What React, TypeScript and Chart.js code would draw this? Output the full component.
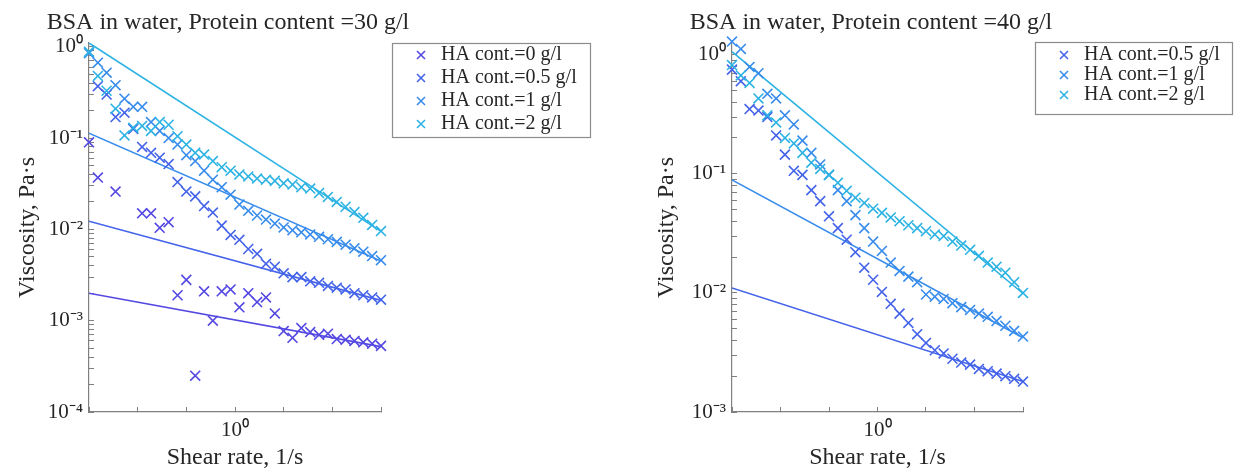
import React, { useEffect, useRef } from 'react';
import { Chart, registerables } from 'chart.js';

Chart.register(...registerables);

// ---------- data ----------
const shearRate = [0.1, 0.115, 0.132, 0.152, 0.175, 0.201, 0.231, 0.266, 0.305, 0.351, 0.404, 0.464, 0.534, 0.614, 0.705, 0.811, 0.933, 1.072, 1.233, 1.417, 1.63, 1.874, 2.154, 2.477, 2.848, 3.275, 3.765, 4.329, 4.977, 5.722, 6.579, 7.565, 8.697, 10.0];

// Protein content 30 g/l
const ha0_30 = [0.09, 0.037, null, 0.026, null, null, 0.015, 0.015, 0.0104, 0.012, 0.0019, 0.0028, 0.00025, 0.0021, 0.001, 0.0021, 0.0022, 0.0014, 0.002, 0.0016, 0.0018, 0.0012, 0.00077, 0.00065, 0.00083, 0.00075, 0.0007, 0.00072, 0.00063, 0.00062, 0.0006, 0.00058, 0.00056, 0.00053];
const ha05_30 = [null, 0.37, 0.3, 0.17, 0.19, 0.126, 0.08, 0.069, 0.061, 0.052, 0.033, 0.026, 0.023, 0.018, 0.0153, 0.011, 0.0087, 0.0077, 0.0061, 0.0054, 0.0042, 0.0039, 0.0033, 0.003, 0.003, 0.0027, 0.0026, 0.0024, 0.0023, 0.0022, 0.002, 0.0019, 0.0018, 0.0017];
const ha1_30 = [0.85, 0.67, 0.52, 0.38, 0.27, 0.22, 0.22, 0.15, 0.12, 0.1, 0.085, 0.065, 0.056, 0.044, 0.035, 0.029, 0.024, 0.0187, 0.016, 0.0142, 0.0128, 0.0116, 0.0105, 0.0098, 0.0093, 0.0088, 0.0083, 0.0078, 0.0073, 0.0068, 0.0062, 0.0057, 0.0051, 0.0046];
const ha2_30 = [0.88, 0.48, 0.33, 0.21, 0.107, 0.13, 0.136, 0.12, 0.15, 0.14, 0.105, 0.085, 0.069, 0.066, 0.056, 0.048, 0.044, 0.04, 0.038, 0.036, 0.035, 0.034, 0.032, 0.031, 0.029, 0.028, 0.025, 0.0227, 0.02, 0.0177, 0.0155, 0.0134, 0.0112, 0.0096];

// Protein content 40 g/l
const ha05_40 = [0.75, 0.6, 0.35, 0.34, 0.3, 0.21, 0.145, 0.106, 0.098, 0.073, 0.059, 0.044, 0.035, 0.028, 0.022, 0.0163, 0.0129, 0.0102, 0.0081, 0.0067, 0.0056, 0.0045, 0.0038, 0.0033, 0.0031, 0.0028, 0.0026, 0.0025, 0.0023, 0.0022, 0.0021, 0.002, 0.0019, 0.0018];
const ha1_40 = [1.29, 1.12, 0.79, 0.7, 0.47, 0.43, 0.31, 0.26, 0.19, 0.15, 0.12, 0.098, 0.073, 0.059, 0.045, 0.035, 0.027, 0.0225, 0.018, 0.0153, 0.0137, 0.0123, 0.0097, 0.0093, 0.0089, 0.0082, 0.0076, 0.0072, 0.0067, 0.0063, 0.0058, 0.0053, 0.0048, 0.0043];
const ha2_40 = [0.82, 0.67, 0.58, 0.43, 0.31, 0.27, 0.2, 0.18, 0.15, 0.124, 0.11, 0.098, 0.084, 0.072, 0.063, 0.057, 0.051, 0.047, 0.043, 0.04, 0.037, 0.035, 0.033, 0.031, 0.03, 0.027, 0.025, 0.023, 0.0205, 0.018, 0.0166, 0.0148, 0.0123, 0.01];

// power-law fit lines (end points at the x limits)
const fitX = [0.1, 10];
const fit0_30 = [0.002, 0.00052];
const fit05_30 = [0.0123, 0.00167];
const fit1_30 = [0.113, 0.0045];
const fit2_30 = [1.1, 0.0095];
const fit05_40 = [0.011, 0.0018];
const fit1_40 = [0.089, 0.0042];
const fit2_40 = [1.06, 0.0099];

const labels30 = ['HA cont.=0 g/l', 'HA cont.=0.5 g/l', 'HA cont.=1 g/l', 'HA cont.=2 g/l'];
const labels40 = ['HA cont.=0.5 g/l', 'HA cont.=1 g/l', 'HA cont.=2 g/l'];

// ticks
const xTicks = [0.1, 0.2154, 0.4642, 1, 2.154, 4.642, 10];
const xMajor = [1];
const xMajorLabels = ['10⁰'];
const minorMult = [1, 2, 3, 4, 5, 6, 7, 8, 9];
const yDecades30 = [1e-4, 1e-3, 1e-2, 1e-1];
const yDecades40 = [1e-3, 1e-2, 1e-1];
const yMajor30 = [1e-4, 1e-3, 1e-2, 1e-1, 1];
const yMajorLabels30 = ['10⁻⁴', '10⁻³', '10⁻²', '10⁻¹', '10⁰'];
const yMajor40 = [1e-3, 1e-2, 1e-1, 1];
const yMajorLabels40 = ['10⁻³', '10⁻²', '10⁻¹', '10⁰'];

// colours
const cHA0 = '#5448e2';
const cHA05 = '#4463ea';
const cHA1 = '#388cec';
const cHA2 = '#2db3e3';

const FONT = "'Liberation Serif', 'Times New Roman', serif";
const TEXT = '#262626';
const AXIS = '#808080';

// ---------- helpers ----------
const labelFor = (majors: number[], names: string[]) => (v: number) => {
  for (let i = 0; i < majors.length; i++) {
    if (Math.abs(Math.log10(v) - Math.log10(majors[i])) < 1e-6) return names[i];
  }
  return '';
};

const frameAndPlace = {
  id: 'frameAndPlace',
  beforeDraw(chart: any, _a: any, opts: any) {
    const lg = chart.legend;
    if (lg) {
      lg.left = opts.lx;
      lg.top = opts.ly;
      lg.width = 260;
      lg.height = 200;
      lg.right = opts.lx + 260;
      lg.bottom = opts.ly + 200;
    }
    const t = chart.titleBlock;
    if (t) {
      t.left = opts.tc - 300;
      t.right = opts.tc + 300;
      t.width = 600;
    }
  },
  afterDraw(chart: any, _a: any, opts: any) {
    const ctx = chart.ctx;
    const [l, t, r, b] = opts.frame;
    ctx.save();
    ctx.strokeStyle = '#8c8c8c';
    ctx.lineWidth = 1.2;
    ctx.strokeRect(l + 0.5, t + 0.5, r - l, b - t);
    ctx.restore();
  },
};

type Series = { label: string; values: (number | null)[]; fit: number[]; color: string };

type PanelSpec = {
  title: string;
  series: Series[];
  yMin: number;
  yMax: number;
  yTicks: number[];
  yMajor: number[];
  yMajorLabels: string[];
  yAxisWidth: number;
  yTitlePad: number;
  padRight: number;
  legendPad: number;
  lx: number;
  ly: number;
  tc: number;
  frame: number[];
};

function buildConfig(p: PanelSpec): any {
  const n = p.series.length;
  const datasets: any[] = [];
  p.series.forEach((s, k) => {
    datasets.push({
      label: s.label,
      data: shearRate.map((x, i) => ({ x, y: s.values[i] })),
      pointStyle: 'crossRot',
      pointRadius: 7,
      pointHoverRadius: 7,
      borderWidth: 1.6,
      borderColor: s.color,
      backgroundColor: s.color,
      showLine: false,
      clip: false,
      order: n - k,
    });
  });
  p.series.forEach((s) => {
    datasets.push({
      label: '',
      data: fitX.map((x, i) => ({ x, y: s.fit[i] })),
      showLine: true,
      pointRadius: 0,
      borderWidth: 1.6,
      borderColor: s.color,
      backgroundColor: s.color,
      fill: false,
      order: 10,
    });
  });

  const tickFont = { family: FONT, size: 21 };
  const titleFont = { family: FONT, size: 24, weight: 'normal' as const };

  return {
    type: 'scatter',
    data: { datasets },
    plugins: [frameAndPlace],
    options: {
      responsive: false,
      animation: false,
      events: [],
      layout: { padding: { left: 0, top: 0, right: p.padRight, bottom: 0 } },
      scales: {
        x: {
          type: 'logarithmic',
          position: 'bottom',
          min: 0.1,
          max: 10,
          afterBuildTicks: (s: any) => {
            s.ticks = xTicks.map((v) => ({ value: v }));
          },
          afterFit: (s: any) => {
            s.height = 60;
          },
          ticks: {
            autoSkip: false,
            maxRotation: 0,
            padding: 11,
            font: tickFont,
            color: TEXT,
            callback: (v: number) => labelFor(xMajor, xMajorLabels)(v),
          },
          grid: { drawOnChartArea: false, tickLength: -5, tickColor: AXIS, tickWidth: 1 },
          border: { display: true, color: AXIS, width: 1.2 },
          title: { display: true, text: 'Shear rate, 1/s', font: titleFont, color: TEXT, padding: { top: 0, bottom: 0 } },
        },
        y: {
          type: 'logarithmic',
          position: 'left',
          min: p.yMin,
          max: p.yMax,
          afterBuildTicks: (s: any) => {
            s.ticks = p.yTicks.map((v) => ({ value: v }));
          },
          afterFit: (s: any) => {
            s.width = p.yAxisWidth;
          },
          ticks: {
            autoSkip: false,
            padding: 11,
            font: tickFont,
            color: TEXT,
            callback: (v: number) => labelFor(p.yMajor, p.yMajorLabels)(v),
          },
          grid: { drawOnChartArea: false, tickLength: -5, tickColor: AXIS, tickWidth: 1 },
          border: { display: true, color: AXIS, width: 1.2 },
          title: { display: true, text: 'Viscosity, Pa·s', font: titleFont, color: TEXT, padding: { top: p.yTitlePad, bottom: 0 } },
        },
      },
      plugins: {
        title: {
          display: true,
          text: p.title,
          font: titleFont,
          color: TEXT,
          padding: { top: 8, bottom: 6 },
        },
        legend: {
          display: true,
          position: 'chartArea',
          align: 'start',
          labels: {
            usePointStyle: true,
            boxWidth: 20,
            boxHeight: 8,
            padding: p.legendPad,
            color: TEXT,
            font: { family: FONT, size: 20 },
            filter: (item: any) => item.text !== '',
            sort: (a: any, b: any) => a.datasetIndex - b.datasetIndex,
          },
        },
        tooltip: { enabled: false },
        frameAndPlace: { lx: p.lx, ly: p.ly, tc: p.tc, frame: p.frame },
      },
    },
  };
}

const logTicks = (decades: number[]) => decades.flatMap((d) => minorMult.map((m) => m * d)).concat([1]);

const panel30: PanelSpec = {
  title: 'BSA in water, Protein content =30 g/l',
  series: [
    { label: labels30[0], values: ha0_30, fit: fit0_30, color: cHA0 },
    { label: labels30[1], values: ha05_30, fit: fit05_30, color: cHA05 },
    { label: labels30[2], values: ha1_30, fit: fit1_30, color: cHA1 },
    { label: labels30[3], values: ha2_30, fit: fit2_30, color: cHA2 },
  ],
  yMin: 1e-4,
  yMax: 1.106,
  yTicks: logTicks(yDecades30),
  yMajor: yMajor30,
  yMajorLabels: yMajorLabels30,
  yAxisWidth: 89,
  yTitlePad: 13,
  padRight: 239,
  legendPad: 3,
  lx: 408,
  ly: 42,
  tc: 228,
  frame: [392, 43, 590, 137],
};

const panel40: PanelSpec = {
  title: 'BSA in water, Protein content =40 g/l',
  series: [
    { label: labels40[0], values: ha05_40, fit: fit05_40, color: cHA05 },
    { label: labels40[1], values: ha1_40, fit: fit1_40, color: cHA1 },
    { label: labels40[2], values: ha2_40, fit: fit2_40, color: cHA2 },
  ],
  yMin: 1e-3,
  yMax: 1.26,
  yTicks: logTicks(yDecades40),
  yMajor: yMajor40,
  yMajorLabels: yMajorLabels40,
  yAxisWidth: 112,
  yTitlePad: 32,
  padRight: 216,
  legendPad: 0,
  lx: 434,
  ly: 45,
  tc: 251,
  frame: [415, 42, 612, 114],
};

function Panel({ spec, left, width }: { spec: PanelSpec; left: number; width: number }) {
  const ref = useRef<HTMLCanvasElement>(null);
  useEffect(() => {
    if (!ref.current) return;
    const chart = new Chart(ref.current, buildConfig(spec));
    return () => chart.destroy();
  }, [spec]);
  return (
    <canvas
      ref={ref}
      width={width}
      height={472}
      style={{ position: 'absolute', left, top: 0, width, height: 472 }}
    />
  );
}

export default function App() {
  return (
    <div style={{ position: 'fixed', left: 0, top: 0, width: 1239, height: 472, background: '#ffffff', overflow: 'hidden' }}>
      <Panel spec={panel30} left={0} width={620} />
      <Panel spec={panel40} left={620} width={619} />
    </div>
  );
}
